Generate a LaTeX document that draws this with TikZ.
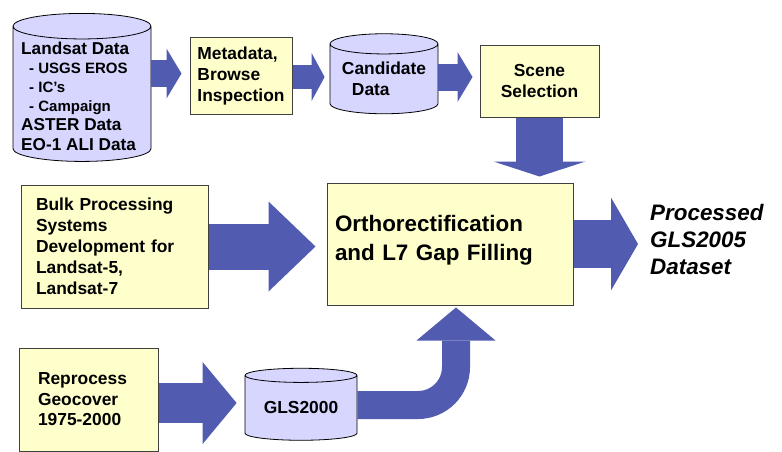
\documentclass[tikz,border=0pt]{standalone}
\usepackage{fontspec}
\setmainfont{Liberation Sans}
\usetikzlibrary{shapes.geometric,arrows.meta}
\definecolor{arrowblue}{RGB}{81,91,176}
\definecolor{boxfill}{RGB}{255,255,204}
\definecolor{cylfill}{RGB}{214,214,255}
\definecolor{boxline}{RGB}{64,64,64}
\newcommand{\mainfont}{\fontsize{17.4}{21}\selectfont\bfseries}
\newcommand{\bigfont}{\fontsize{22.4}{29}\selectfont\bfseries}
\newcommand{\subfont}{\fontsize{15}{19.2}\selectfont\bfseries}
\tikzset{
  box/.style={draw=boxline, fill=boxfill, line width=1pt, inner ysep=0pt, font=\mainfont},
  store/.style={cylinder, shape border rotate=90, draw=black, line width=0.8pt,
    cylinder uses custom fill, cylinder body fill=cylfill, cylinder end fill=cylfill,
    inner sep=0pt, font=\mainfont},
  fat/.style n args={4}{draw=arrowblue, line width=#1,
    -{Triangle[width=#2, length=#3, line width=0pt]}, shorten >=#4},
}
\begin{document}
\begin{tikzpicture}[x=1pt,y=-1pt]
  \useasboundingbox (0,0) rectangle (782,451);
  % data stores
  \node[store, minimum width=138pt, minimum height=148pt, aspect=0.22] (land) at (82,94)
    {\phantom{EO-1 ALI Data}};
  \node[anchor=west, align=left, inner sep=0pt, font=\fontsize{17.2}{19.2}\selectfont\bfseries]
    (landtext) at (21,96)
    {Landsat Data\\
     {\subfont\hspace*{8pt}- USGS EROS}\\
     {\subfont\hspace*{8pt}- IC’s}\\
     {\subfont\hspace*{8pt}- Campaign}\\
     ASTER Data\\
     EO-1 ALI Data};
  \node[store, minimum width=108pt, minimum height=80pt, aspect=0.24, align=left]
    (cand) at (384,79) {Candidate\\\hspace*{10pt}Data};
  \node[store, minimum width=112pt, minimum height=72pt, aspect=0.19]
    (gls) at (301,408) {GLS2000};
  % process boxes
  \node[box, minimum width=102pt, minimum height=77pt, align=left] (meta) at (241,75.5)
    {Metadata,\\Browse\\Inspection};
  \node[box, minimum width=119pt, minimum height=72pt, align=center] (scene) at (539.5,81)
    {Scene\\Selection};
  \node[box, inner xsep=15pt, text width=157pt, minimum height=123pt, align=left]
    (bulk) at (114.5,246.5)
    {Bulk Processing\\Systems\\Development for\\Landsat-5,\\Landsat-7};
  \node[box, font=\bigfont, inner xsep=8pt, text width=230pt, minimum height=122pt,
    text depth=41pt, align=left] (ortho) at (450,244)
    {Orthorectification\\and L7 Gap Filling};
  \node[box, inner xsep=19pt, text width=101pt, minimum height=103pt, align=left,
    font=\fontsize{17.4}{20.5}\selectfont\bfseries] (repro) at (88.5,399.5)
    {Reprocess\\Geocover\\1975-2000};
  \node[anchor=west, inner sep=0pt, align=left,
    font=\fontsize{22.4}{27}\selectfont\bfseries\itshape] (proc) at (650,239)
    {Processed\\GLS2005\\Dataset};
  % flow
  \draw[fat={27pt}{50pt}{15pt}{8pt}] (land.east |- 0,73.5) -- (meta.west |- 0,73.5);
  \draw[fat={24pt}{48pt}{13pt}{5pt}] (meta.east |- 0,77) -- (cand.west |- 0,77);
  \draw[fat={27pt}{50pt}{15pt}{7pt}] (cand.east |- 0,77) -- (scene.west |- 0,77);
  \draw[fat={47pt}{92pt}{15pt}{6pt}] (scene.south) -- (scene.south |- ortho.north);
  \draw[fat={46pt}{90pt}{47pt}{11pt}] (bulk.east) -- (bulk.east -| ortho.west);
  \draw[fat={48pt}{93pt}{27pt}{12pt}] (ortho.east) -- (ortho.east -| proc.west);
  \draw[fat={40pt}{82pt}{34pt}{8pt}] (repro.east |- 0,403) -- (gls.west |- 0,403);
  \draw[fat={28pt}{79pt}{33pt}{2pt}, rounded corners=38pt]
    (gls.east |- 0,405) -| ([xshift=6pt]ortho.south);
\end{tikzpicture}
\end{document}
